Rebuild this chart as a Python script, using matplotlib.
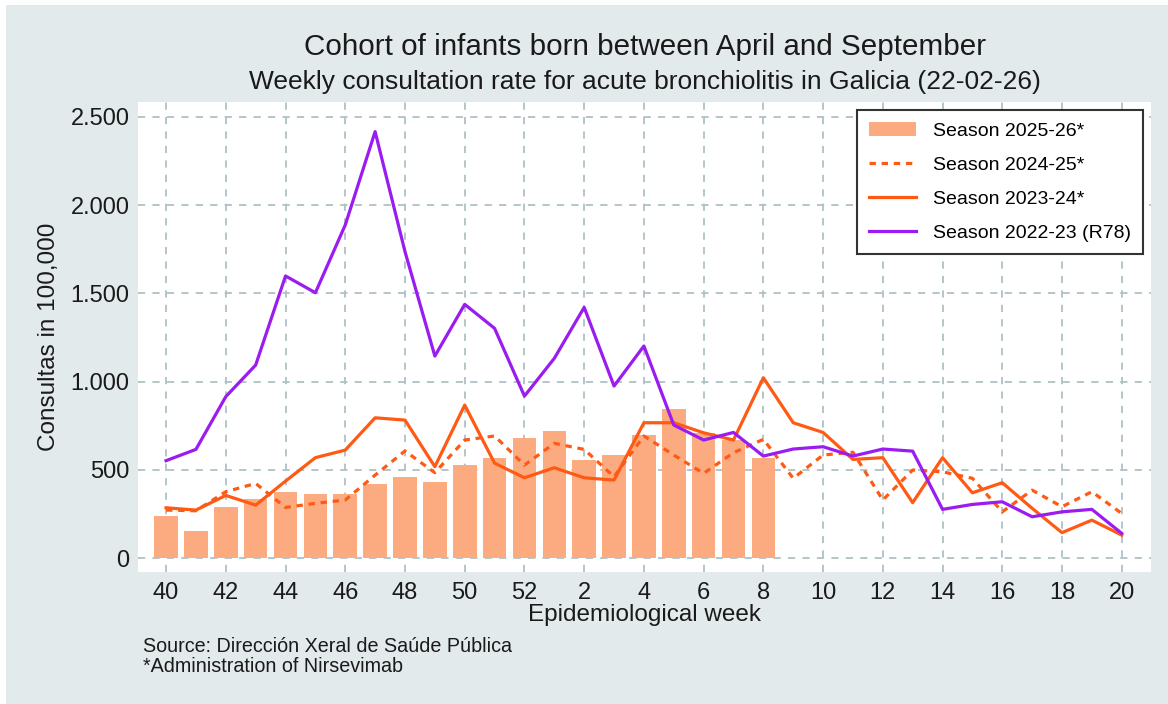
import numpy as np
import matplotlib
matplotlib.use("Agg")
import matplotlib.pyplot as plt
from matplotlib.patches import Rectangle
from matplotlib.ticker import FuncFormatter

plt.rcParams['font.family'] = ['Liberation Sans', 'DejaVu Sans']

weeks = [40, 41, 42, 43, 44, 45, 46, 47, 48, 49, 50, 51, 52,
         1, 2, 3, 4, 5, 6, 7, 8, 9, 10, 11, 12, 13, 14, 15, 16, 17, 18, 19, 20]

# season 2025-26 (bars, up to week 8)
season_2526 = [238, 155, 291, 334, 376, 361, 361, 418, 457, 429, 527, 569, 680,
               720, 557, 584, 697, 847, 708, 669, 569]

season_2425 = [272, 268, 376, 423, 287, 310, 329, 470, 607, 484, 669, 692, 527,
               650, 616, 461, 692, 584, 480, 597, 673, 452, 584, 600, 329, 499,
               489, 452, 262, 385, 291, 376, 253]

season_2324 = [285, 272, 355, 300, 436, 569, 612, 795, 782, 518, 867, 538, 455,
               512, 455, 442, 767, 767, 710, 669, 1022, 767, 712, 559, 569, 314,
               569, 370, 427, 282, 144, 215, 130]

season_2223 = [552, 616, 915, 1094, 1599, 1504, 1888, 2417, 1737, 1145, 1438, 1302, 918,
               1132, 1421, 975, 1202, 754, 669, 712, 578, 618, 631, 578, 618, 606,
               276, 304, 319, 234, 262, 276, 140]

bar_color = '#fcab80'
orange = '#ff5a14'
purple = '#9a1cf0'
bg = '#e3eaec'
grid_color = '#afc1c6'

fig = plt.figure(figsize=(11.68, 7.04), dpi=100, facecolor='white')
fig.patches.append(Rectangle((6 / 1168, 0), 1, 1 - 5 / 704, transform=fig.transFigure,
                             facecolor=bg, edgecolor='none', zorder=-10))

ax = fig.add_axes([138 / 1168, 1 - 572 / 704, (1151 - 138) / 1168, (572 - 102) / 704])
ax.set_facecolor('white')

x = np.arange(len(weeks))

bars = ax.bar(x[:len(season_2526)], season_2526, width=0.79, color=bar_color,
              label='Season 2025-26*', zorder=2)
l1, = ax.plot(x, season_2425, color=orange, lw=2.3, dashes=(2.0, 1.8),
              label='Season 2024-25*', zorder=3)
l2, = ax.plot(x, season_2324, color=orange, lw=2.3, label='Season 2023-24*', zorder=3)
l3, = ax.plot(x, season_2223, color=purple, lw=2.3, label='Season 2022-23 (R78)', zorder=4)

ax.set_xlim(-0.94, 32.98)
ax.set_ylim(-79, 2585)
ax.set_xticks(x[::2])
ax.set_xticklabels([str(w) for w in weeks[::2]])
ax.set_yticks([0, 500, 1000, 1500, 2000, 2500])
ax.yaxis.set_major_formatter(FuncFormatter(lambda v, p: f"{int(v):,}".replace(',', '.')))
ax.tick_params(length=0, labelsize=17, colors='#1a1a1a')
ax.tick_params(axis='y', pad=6)
ax.tick_params(axis='x', pad=7)
for s in ax.spines.values():
    s.set_visible(False)

ax.grid(True, color=grid_color, lw=1.3, dashes=(4, 4), zorder=0)
ax.set_axisbelow(True)

ax.set_xlabel('Epidemiological week', fontsize=17.5, labelpad=0, color='#1a1a1a')
ax.set_ylabel('Consultas in 100,000', fontsize=17.5, labelpad=8, color='#1a1a1a')

leg = ax.legend(handles=[bars, l1, l2, l3], loc='upper right',
                bbox_to_anchor=(0.992, 0.982), borderaxespad=0,
                fontsize=14, fancybox=False, edgecolor='#333333', framealpha=1,
                handlelength=2.4, labelspacing=0.85, borderpad=0.6, handletextpad=0.9)
leg.get_frame().set_linewidth(1.5)

fig.text(645 / 1168, 1 - 47 / 704, 'Cohort of infants born between April and September',
         fontsize=21.3, ha='center', va='center', color='#1a1a1a')
fig.text(645 / 1168, 1 - 82 / 704,
         'Weekly consultation rate for acute bronchiolitis in Galicia (22-02-26)',
         fontsize=19, ha='center', va='center', color='#1a1a1a')

fig.text(143 / 1168, 1 - 647 / 704, 'Source: Dirección Xeral de Saúde Pública',
         fontsize=14.2, ha='left', va='center', color='#1a1a1a')
fig.text(143 / 1168, 1 - 667 / 704, '*Administration of Nirsevimab',
         fontsize=14.2, ha='left', va='center', color='#1a1a1a')

fig.savefig('out.png', dpi=100, facecolor=fig.get_facecolor())
